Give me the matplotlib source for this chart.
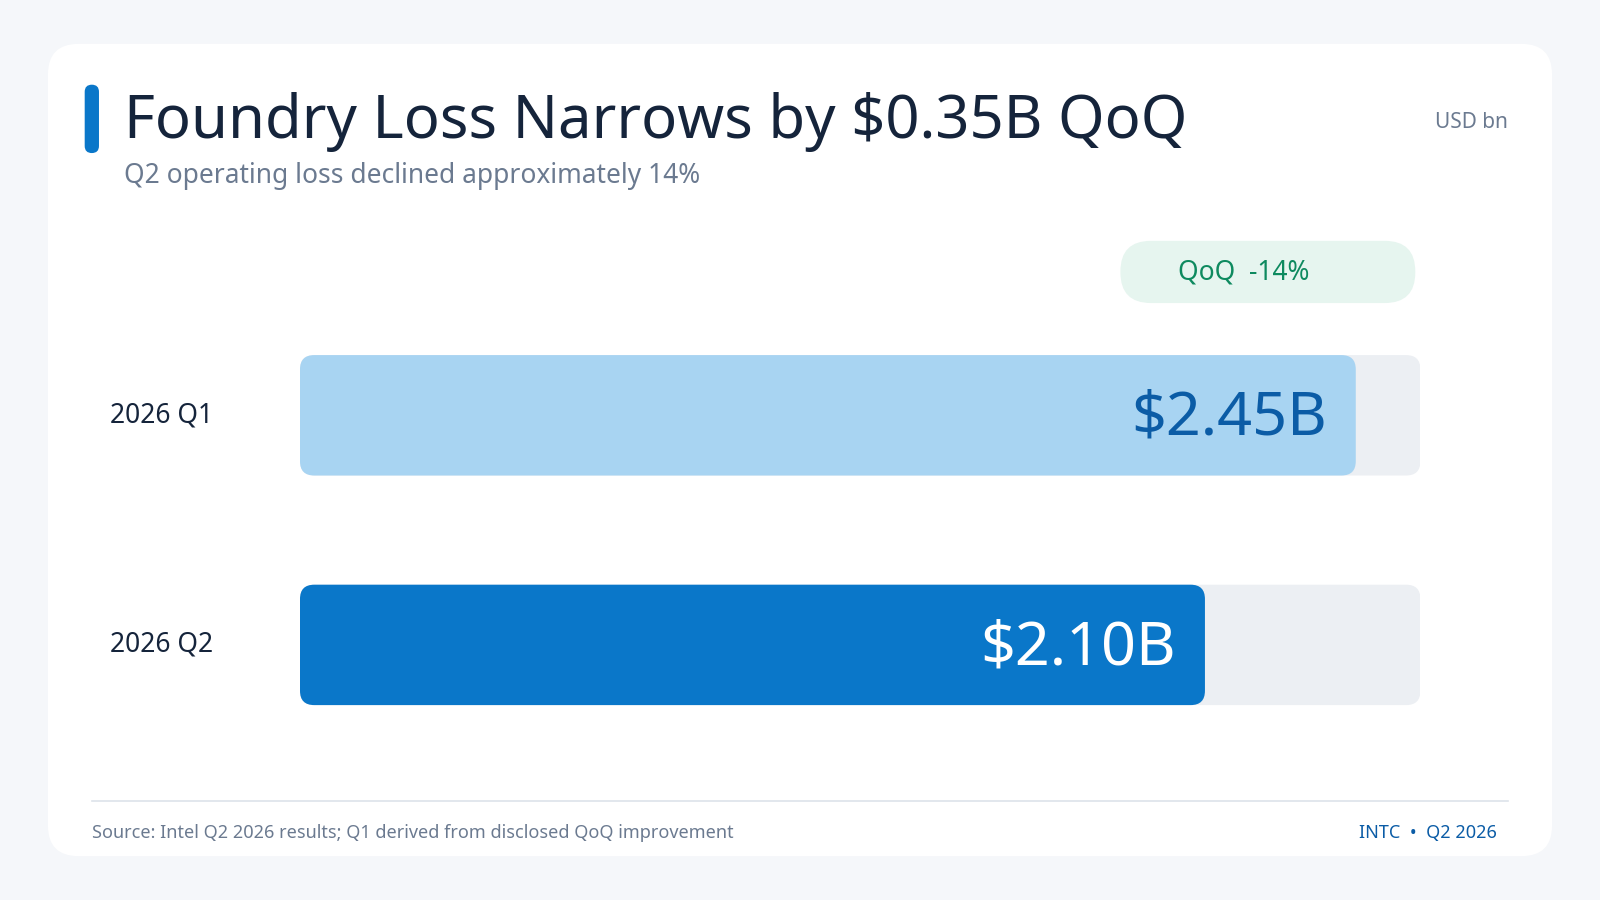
import matplotlib.pyplot as plt
from matplotlib.patches import FancyBboxPatch

plt.rcParams['font.family'] = ['Noto Sans', 'DejaVu Sans']

categories = ['2026 Q1', '2026 Q2']
values = [2.45, 2.10]
value_labels = ['$2.45B', '$2.10B']
axis_max = 2.6

W, H = 1568, 882
fig = plt.figure(figsize=(16, 9), dpi=100)
fig.patch.set_facecolor('#F5F7FA')
bg = fig.add_axes([0, 0, 1, 1])
bg.set_xlim(0, W)
bg.set_ylim(H, 0)
bg.axis('off')

# card
bg.add_patch(FancyBboxPatch((47, 43), 1474, 796, boxstyle='round,pad=0,rounding_size=30',
                            fc='white', ec='none'))
bg.add_patch(FancyBboxPatch((83, 83), 14, 67, boxstyle='round,pad=0,rounding_size=7',
                            fc='#0A77C9', ec='none'))
bg.text(122, 120, 'Foundry Loss Narrows by $0.35B QoQ', fontsize=43, fontweight='bold',
        color='#15243B', va='center', ha='left')
bg.text(122, 172, 'Q2 operating loss declined approximately 14%', fontsize=19,
        color='#6B7A90', va='center', ha='left')
bg.text(1478, 120, 'USD bn', fontsize=15, color='#6B7A90', va='center', ha='right')

# pill
bg.add_patch(FancyBboxPatch((1098, 236), 289, 61, boxstyle='round,pad=0,rounding_size=30',
                            fc='#E6F5EF', ec='none'))
bg.text(1219, 267, 'QoQ  -14%', fontsize=19, color='#0E8A5F', va='center', ha='center')

# footer
bg.plot([90, 1478], [785, 785], color='#DDE3EA', lw=1.2)
bg.text(90, 816, 'Source: Intel Q2 2026 results; Q1 derived from disclosed QoQ improvement',
        fontsize=13, color='#6B7A90', va='center', ha='left')
bg.text(1467, 816, 'INTC  \u2022  Q2 2026', fontsize=13, color='#0B5CA6', va='center', ha='right')

# bars
x0, x1, y0, y1 = 294, 1392, 290, 750
ax = fig.add_axes([x0 / W, 1 - y1 / H, (x1 - x0) / W, (y1 - y0) / H])
ax.set_xlim(0, axis_max)
ax.set_ylim(y1, y0)
ax.axis('off')
px_per_unit = (x1 - x0) / axis_max
r = 14 / px_per_unit
centers = [407, 632]
bar_h = 118
fills = ['#A8D4F2', '#0A77C9']
txt_colors = ['#0B5CA6', 'white']
for cat, v, lab, yc, fc, tc in zip(categories, values, value_labels, centers, fills, txt_colors):
    ax.add_patch(FancyBboxPatch((0, yc - bar_h / 2), axis_max, bar_h,
                                boxstyle=f'round,pad=0,rounding_size={r}',
                                mutation_aspect=px_per_unit, fc='#ECEFF3', ec='none'))
    ax.add_patch(FancyBboxPatch((0, yc - bar_h / 2), v, bar_h,
                                boxstyle=f'round,pad=0,rounding_size={r}',
                                mutation_aspect=px_per_unit, fc=fc, ec='none'))
    ax.text(v - 28 / px_per_unit, yc + 4, lab, fontsize=44, fontweight='bold', color=tc,
            va='center', ha='right')
    bg.text(108, yc, cat, fontsize=19, color='#15243B', va='center', ha='left')

fig.savefig('out.png', dpi=100)
